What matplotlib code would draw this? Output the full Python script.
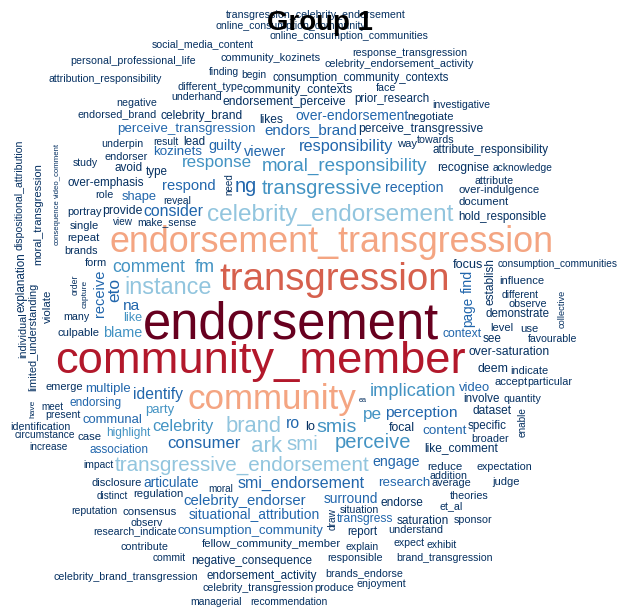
import matplotlib
matplotlib.use("Agg")
import matplotlib.pyplot as plt

# ---------------- data ----------------
title = "Group 1"

words = [
    "endorsement", "community_member", "transgression", "endorsement_transgression", "community",
    "celebrity_endorsement", "instance", "brand", "ark", "smi", "transgressive_endorsement",
    "moral_responsibility", "transgressive", "comment", "fm", "response", "perceive", "smis", "pe",
    "implication", "celebrity", "party", "highlight", "like", "blame",
    "respond", "consider", "shape", "ng", "reception", "kozinets", "perceive_transgression",
    "endors_brand", "over-endorsement", "guilty", "viewer", "responsibility", "consumer",
    "identify", "multiple", "endorsing", "communal", "association", "na", "ro", "context",
    "video", "perception", "content", "engage", "research", "surround", "smi_endorsement",
    "celebrity_endorser", "situational_attribution", "consumption_community", "articulate",
    "transgress", "receive", "eto", "page", "find",
    "social_media_content", "personal_professional_life", "attribution_responsibility",
    "negative", "endorsed_brand", "celebrity_brand", "underpin", "result", "lead", "endorser",
    "transgression_celebrity_endorsement", "online_consumption_community",
    "online_consumption_communities", "community_kozinets", "response_transgression",
    "celebrity_endorsement_activity", "finding", "begin", "consumption_community_contexts",
    "different_type", "community_contexts", "face", "underhand", "endorsement_perceive",
    "prior_research", "investigative", "negotiate", "likes", "perceive_transgressive", "way",
    "towards", "attribute_responsibility", "study", "avoid", "type", "over-emphasis", "role",
    "reveal", "portray", "provide", "view", "make_sense", "single", "repeat", "brands", "form",
    "recognise", "acknowledge", "attribute", "over-indulgence", "document", "hold_responsible",
    "focus", "consumption_communities", "influence", "different", "observe", "demonstrate",
    "level", "use", "see", "favourable", "over-saturation", "deem", "indicate", "accept",
    "particular", "involve", "quantity", "dataset", "specific", "broader", "like_comment",
    "ea", "lo", "focal", "emerge", "meet", "present", "identification", "circumstance", "case",
    "increase", "many", "culpable", "impact", "disclosure", "moral", "reduce", "expectation",
    "addition", "average", "judge", "theories", "endorse", "et_al", "distinct", "regulation",
    "situation", "saturation", "sponsor", "reputation", "consensus", "observ",
    "research_indicate", "report", "understand", "fellow_community_member", "explain", "expect",
    "exhibit", "contribute", "commit", "negative_consequence", "responsible",
    "brand_transgression", "endorsement_activity", "brands_endorse",
    "celebrity_brand_transgression", "celebrity_transgression", "produce", "enjoyment",
    "managerial", "recommendation",
    "need", "dispositional_attribution", "explanation", "individual", "moral_transgression",
    "limited_understanding", "have", "video_comment", "consequence", "violate", "order",
    "capture", "establish", "collective", "enable", "draw",
]

freq = (
    [120, 95, 78, 64, 62,
     46, 44, 43, 40, 41, 40,
     32, 31, 30, 28, 30, 31, 27, 26,
     29, 27, 26, 26, 25, 26,
     20, 20, 19, 18, 18, 19, 20,
     20, 20, 19, 19, 21, 19,
     20, 18, 17, 18, 16, 17, 16, 16,
     17, 18, 17, 18, 17, 18, 19,
     19, 18, 18, 17,
     16, 16, 15, 16, 16]
    + [9] * 153
)

# ---------------- layout (pixel positions in the 618x607 picture) ----------------
# horizontal words: x_left, x_right, y_center
h_layout = {
    "social_media_content": (152, 254, 44), "personal_professional_life": (71, 195, 61),
    "attribution_responsibility": (49, 162, 79), "negative": (117, 157, 103),
    "endorsed_brand": (78, 156, 114), "celebrity_brand": (161, 243, 116),
    "underpin": (101, 143, 144), "perceive_transgression": (117, 255, 129),
    "result": (153, 178, 142), "lead": (183, 205, 142), "kozinets": (153, 202, 152),
    "endorser": (105, 148, 157),
    "transgression_celebrity_endorsement": (228, 404, 15),
    "online_consumption_community": (216, 366, 26),
    "online_consumption_communities": (270, 427, 36),
    "community_kozinets": (221, 320, 58), "response_transgression": (353, 466, 53),
    "celebrity_endorsement_activity": (325, 473, 64), "finding": (209, 239, 72),
    "begin": (241, 266, 75), "consumption_community_contexts": (273, 449, 78),
    "different_type": (178, 243, 87), "community_contexts": (243, 353, 90),
    "face": (376, 396, 88), "underhand": (172, 222, 97),
    "endorsement_perceive": (223, 346, 102), "prior_research": (354, 429, 99),
    "investigative": (432, 490, 105), "negotiate": (408, 454, 117), "likes": (259, 283, 120),
    "over-endorsement": (296, 408, 116), "endors_brand": (264, 357, 130),
    "perceive_transgressive": (359, 483, 129), "guilty": (209, 242, 146),
    "viewer": (244, 286, 152), "responsibility": (299, 393, 147), "way": (397, 417, 144),
    "towards": (417, 454, 140), "attribute_responsibility": (433, 548, 150),
    "study": (73, 98, 163), "avoid": (115, 143, 168), "type": (146, 168, 172),
    "over-emphasis": (68, 144, 183), "response": (182, 252, 163), "respond": (162, 215, 186),
    "role": (95, 113, 195), "shape": (122, 157, 197), "reveal": (163, 191, 201),
    "portray": (68, 102, 212), "provide": (102, 142, 211), "consider": (143, 203, 212),
    "view": (113, 133, 222), "make_sense": (137, 196, 222), "single": (70, 99, 226),
    "repeat": (67, 99, 238), "brands": (65, 98, 251), "form": (85, 107, 263),
    "comment": (112, 185, 268), "fm": (195, 215, 268), "instance": (125, 212, 287),
    "na": (123, 140, 306), "moral_responsibility": (261, 428, 166), "ng": (235, 257, 187),
    "transgressive": (262, 382, 189), "reception": (385, 443, 188),
    "celebrity_endorsement": (207, 453, 215),
    "endorsement_transgression": (110, 553, 243), "transgression": (220, 450, 280),
    "recognise": (437, 489, 168), "acknowledge": (493, 553, 168),
    "attribute": (475, 513, 181), "over-indulgence": (459, 540, 190),
    "document": (459, 509, 202), "hold_responsible": (458, 546, 217),
    "focus": (453, 483, 265), "consumption_communities": (498, 617, 264),
    "influence": (499, 544, 281), "different": (502, 539, 295), "observe": (509, 547, 304),
    "demonstrate": (486, 550, 314), "context": (443, 482, 334), "level": (490, 513, 328),
    "use": (520, 538, 329), "see": (483, 502, 339), "favourable": (528, 577, 339),
    "over-saturation": (469, 550, 352), "deem": (478, 509, 369),
    "indicate": (510, 548, 371), "accept": (495, 528, 382), "particular": (528, 572, 382),
    "video": (459, 490, 388), "involve": (463, 499, 399), "quantity": (504, 541, 399),
    "dataset": (473, 512, 411), "specific": (468, 507, 426), "broader": (472, 509, 439),
    "content": (423, 467, 431), "like_comment": (424, 498, 448),
    "implication": (370, 456, 391), "perception": (385, 457, 413),
    "endorsement": (143, 438, 325), "community_member": (55, 465, 361),
    "community": (187, 356, 400), "ea": (359, 367, 400), "pe": (363, 382, 414),
    "ro": (286, 300, 423), "lo": (305, 315, 427), "smis": (317, 357, 427),
    "focal": (389, 415, 428), "brand": (226, 282, 427), "ark": (251, 282, 446),
    "smi": (286, 318, 444), "perceive": (335, 411, 442), "consumer": (167, 240, 444),
    "celebrity": (152, 213, 426), "identify": (133, 183, 395), "party": (145, 174, 410),
    "multiple": (85, 130, 389), "emerge": (46, 83, 387), "endorsing": (70, 122, 403),
    "meet": (41, 63, 407), "present": (45, 80, 415), "communal": (82, 142, 420),
    "identification": (11, 70, 427), "circumstance": (15, 75, 435), "case": (78, 102, 437),
    "highlight": (106, 150, 433), "increase": (30, 68, 447), "association": (90, 149, 450),
    "many": (63, 89, 317), "like": (123, 142, 318), "culpable": (58, 100, 333),
    "blame": (103, 142, 333), "impact": (83, 113, 465),
    "transgressive_endorsement": (115, 369, 465), "engage": (373, 420, 462),
    "disclosure": (92, 142, 483), "articulate": (144, 199, 483), "moral": (208, 233, 489),
    "smi_endorsement": (238, 365, 483), "research": (378, 430, 483),
    "reduce": (427, 462, 467), "expectation": (477, 532, 467), "addition": (430, 467, 476),
    "average": (432, 471, 483), "judge": (493, 520, 482), "theories": (450, 488, 496),
    "endorse": (380, 423, 503), "et_al": (440, 463, 506), "distinct": (97, 128, 496),
    "regulation": (133, 183, 494), "celebrity_endorser": (184, 306, 501),
    "surround": (324, 378, 499), "situational_attribution": (189, 319, 514),
    "situation": (340, 379, 510), "transgress": (337, 393, 519),
    "saturation": (397, 449, 521), "sponsor": (454, 492, 520),
    "reputation": (71, 117, 511), "consensus": (123, 177, 512), "observ": (131, 163, 523),
    "research_indicate": (93, 176, 531), "consumption_community": (178, 323, 531),
    "report": (347, 377, 532), "understand": (389, 443, 530),
    "fellow_community_member": (202, 340, 544), "explain": (346, 379, 547),
    "expect": (394, 425, 543), "exhibit": (427, 457, 545), "contribute": (121, 168, 547),
    "commit": (153, 186, 558), "negative_consequence": (192, 312, 561),
    "responsible": (328, 383, 558), "brand_transgression": (397, 493, 558),
    "endorsement_activity": (207, 317, 576), "brands_endorse": (326, 403, 573),
    "celebrity_brand_transgression": (55, 197, 577),
    "celebrity_transgression": (204, 313, 588), "produce": (315, 354, 588),
    "enjoyment": (357, 406, 584), "managerial": (191, 242, 602),
    "recommendation": (250, 327, 602),
}

# vertical words (reading bottom to top): x_center, y_top, y_bottom
v_layout = {
    "need": (229, 173, 195), "dispositional_attribution": (20, 140, 250),
    "explanation": (21, 253, 312), "individual": (23, 313, 358),
    "moral_transgression": (38, 163, 265), "limited_understanding": (33, 283, 390),
    "have": (33, 400, 418), "video_comment": (57, 143, 198), "consequence": (57, 200, 245),
    "violate": (48, 290, 323), "order": (75, 275, 295), "capture": (85, 280, 308),
    "receive": (100, 270, 317), "eto": (115, 278, 302), "page": (468, 297, 327),
    "find": (468, 270, 293), "establish": (490, 258, 305), "collective": (562, 290, 328),
    "enable": (523, 407, 437), "draw": (333, 508, 530),
}

palette = ["#053061", "#2166AC", "#4393C3", "#92C5DE", "#F4A582", "#D6604D", "#B2182B", "#67001F"]
bins = [15, 25, 38, 55, 70, 85, 110]


def color_for(f):
    return palette[sum(f >= b for b in bins)]


W, H = 618, 607
fig = plt.figure(figsize=(W / 100, H / 100), dpi=100)
ax = fig.add_axes([0, 0, 1, 1])
ax.set_xlim(0, W)
ax.set_ylim(H, 0)
ax.axis("off")
renderer = fig.canvas.get_renderer()

FONT = "Liberation Sans"


def place(word, f):
    if word in h_layout:
        x0, x1, y = h_layout[word]
        cx, cy, length, rot = (x0 + x1) / 2, y, x1 - x0, 0
    else:
        x, y0, y1 = v_layout[word]
        cx, cy, length, rot = x, (y0 + y1) / 2, y1 - y0, 90
    t = ax.text(cx, cy, word, fontsize=20, family=FONT, color=color_for(f),
                ha="center", va="center", rotation=rot)
    bb = t.get_window_extent(renderer)
    cur = bb.width if rot == 0 else bb.height
    t.set_fontsize(20 * length / cur)


for w, f in zip(words, freq):
    place(w, f)

# title
tt = ax.text(320, 23, title, fontsize=20, family=FONT, fontweight="bold",
             color="black", ha="center", va="center")
bb = tt.get_window_extent(renderer)
tt.set_fontsize(20 * 106 / bb.width)

fig.savefig("out.png", dpi=100, facecolor="white")
